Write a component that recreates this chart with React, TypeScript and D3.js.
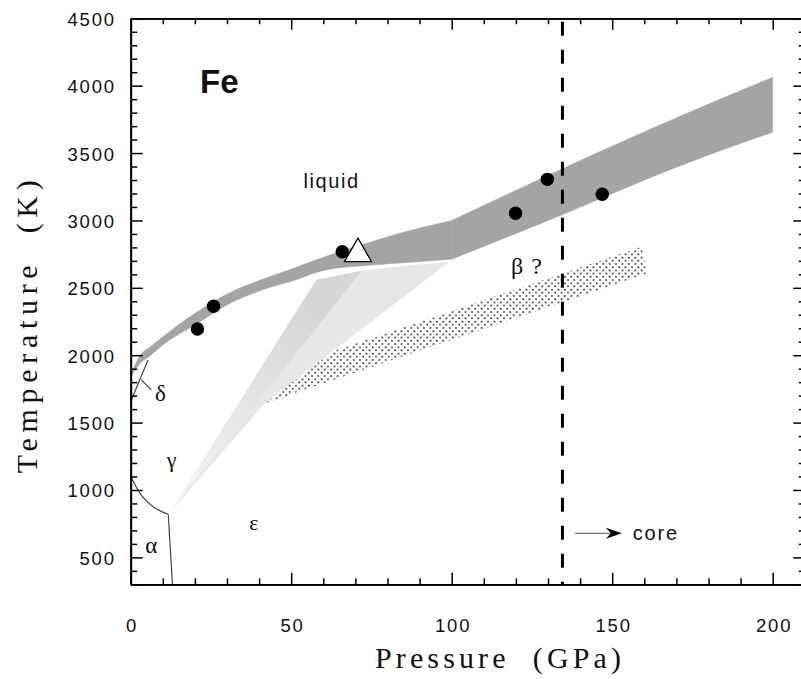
import React, { useEffect, useRef } from 'react';
import * as d3 from 'd3';

// melting band (P in GPa, T in K); the band kinks at 100 GPa
const bandP = [0.3, 3, 6, 10, 20, 30, 41, 52, 58, 62, 72, 83, 92, 100];
const bandTop = [1875, 2000, 2060, 2137, 2311, 2455, 2563, 2657, 2710, 2744, 2820, 2900, 2955, 3000];
const bandBottom = [1850, 1940, 1995, 2076, 2224, 2373, 2484, 2563, 2615, 2638, 2662, 2682, 2697, 2712];
const bandHighP = [100, 135, 170, 200];
const bandHighTop = [3000, 3390, 3762, 4063];
const bandHighBottom = [2712, 3048, 3395, 3655];

// light grey region (gamma/epsilon/liquid uncertainty)
const lightRegion = [[12.1, 830], [57.8, 2558], [72, 2627], [88, 2670], [99.3, 2694], [41.8, 1643]];
const lightWedge = [[12.1, 830], [57.8, 2558], [72, 2627]];

// dotted beta region
const betaRegion = [[41.8, 1643], [63.1, 2030], [159.2, 2805], [160.8, 2607]];

// phase boundaries
const alphaGamma = [[0, 1100], [2.9, 975], [7, 876], [11.7, 820]];
const alphaEps = [[11.7, 820], [13, 300]];
const deltaLine = [[0.2, 1668], [5.4, 1965]];
const deltaLeader = [[3.3, 1817], [6.4, 1744]];

// experimental points
const meltDots = [
  { p: 20.8, t: 2195 },
  { p: 25.8, t: 2363 },
  { p: 65.9, t: 2768 },
  { p: 119.9, t: 3053 },
  { p: 129.8, t: 3305 },
  { p: 146.9, t: 3194 },
];
const shockPoint = { p: 70.8, t: 2753 };
const coreBoundary = 134.5;

const xMajor = [0, 50, 100, 150, 200];
const xMinor = d3.range(0, 211, 10).filter((v) => v % 50 !== 0);
const yMajor = [500, 1000, 1500, 2000, 2500, 3000, 3500, 4000, 4500];
const yMinor = d3.range(300, 4501, 100).filter((v) => v % 500 !== 0);

const labels = [
  { text: 'Fe', p: 21.6, t: 3944, serif: false, size: 33, bold: true, ls: 0 },
  { text: 'liquid', p: 53.8, t: 3239, serif: false, size: 20, bold: false, ls: 1.6 },
  { text: 'β ?', p: 118.5, t: 2603, serif: true, size: 24, bold: false, ls: 1 },
  { text: 'δ', p: 7.6, t: 1660, serif: true, size: 23, bold: false, ls: 0 },
  { text: 'γ', p: 11.2, t: 1170, serif: true, size: 22, bold: false, ls: 0 },
  { text: 'α', p: 4.5, t: 530, serif: true, size: 23, bold: false, ls: 0 },
  { text: 'ε', p: 36.9, t: 703, serif: true, size: 22, bold: false, ls: 0 },
  { text: 'core', p: 156.4, t: 629, serif: false, size: 20, bold: false, ls: 1.8 },
];
const arrow = { p0: 138.4, p1: 153, t: 678 };

const SANS = '"Liberation Sans", Arial, Helvetica, sans-serif';
const SERIF = '"Liberation Serif", "Times New Roman", Times, serif';

const App = () => {
  const svgRef = useRef(null);

  useEffect(() => {
    const svg = d3.select(svgRef.current);
    svg.selectAll('*').remove();

    const x = d3.scaleLinear().domain([0, 210]).range([130.7, 804.8]);
    const y = d3.scaleLinear().domain([300, 4500]).range([584.3, 18.3]);

    const defs = svg.append('defs');
    const grad = defs.append('linearGradient')
      .attr('id', 'wedgeFade')
      .attr('gradientUnits', 'userSpaceOnUse')
      .attr('x1', x(12)).attr('y1', y(830))
      .attr('x2', x(50)).attr('y2', y(2400));
    grad.append('stop').attr('offset', 0).attr('stop-color', '#f6f6f6');
    grad.append('stop').attr('offset', 1).attr('stop-color', '#d6d6d6');

    const pat = defs.append('pattern')
      .attr('id', 'dots')
      .attr('patternUnits', 'userSpaceOnUse')
      .attr('width', 6.4).attr('height', 6.4);
    pat.append('circle').attr('cx', 1.6).attr('cy', 1.6).attr('r', 1).attr('fill', '#222');
    pat.append('circle').attr('cx', 4.8).attr('cy', 4.8).attr('r', 1).attr('fill', '#222');

    const poly = (pts) => 'M' + pts.map((d) => `${x(d[0])},${y(d[1])}`).join('L') + 'Z';
    const line = d3.line().x((d) => x(d[0])).y((d) => y(d[1]));

    // light region + wedge
    svg.append('path').attr('d', poly(lightRegion)).attr('fill', '#e7e7e7');
    svg.append('path').attr('d', poly(lightWedge)).attr('fill', 'url(#wedgeFade)');

    // beta dotted region
    svg.append('path').attr('d', poly(betaRegion)).attr('fill', 'url(#dots)');

    // melting band: curved low-pressure part, then the part beyond the kink
    const bandColor = '#a4a4a4';
    const lowArea = d3.area()
      .x((d, i) => x(bandP[i]))
      .y0((d, i) => y(bandBottom[i]))
      .y1((d, i) => y(bandTop[i]))
      .curve(d3.curveMonotoneX);
    svg.append('path').attr('d', lowArea(bandP))
      .attr('fill', bandColor).attr('stroke', bandColor).attr('stroke-width', 0.4);
    const highArea = d3.area()
      .x((d, i) => x(bandHighP[i]))
      .y0((d, i) => y(bandHighBottom[i]))
      .y1((d, i) => y(bandHighTop[i]))
      .curve(d3.curveMonotoneX);
    svg.append('path').attr('d', highArea(bandHighP))
      .attr('fill', bandColor).attr('stroke', bandColor).attr('stroke-width', 0.4);

    // phase boundaries
    svg.append('path')
      .attr('d', line.curve(d3.curveMonotoneX)(alphaGamma))
      .attr('fill', 'none').attr('stroke', '#444').attr('stroke-width', 1.2);
    line.curve(d3.curveLinear);
    [alphaEps, deltaLine, deltaLeader].forEach((seg) => {
      svg.append('path')
        .attr('d', line(seg))
        .attr('fill', 'none').attr('stroke', '#444').attr('stroke-width', 1.2);
    });

    // core boundary
    svg.append('line')
      .attr('x1', x(coreBoundary)).attr('x2', x(coreBoundary))
      .attr('y1', y(4475)).attr('y2', y(300))
      .attr('stroke', '#000').attr('stroke-width', 3)
      .attr('stroke-dasharray', '14 14');

    // data points
    svg.append('g').selectAll('circle')
      .data(meltDots)
      .enter()
      .append('circle')
      .attr('cx', (d) => x(d.p))
      .attr('cy', (d) => y(d.t))
      .attr('r', 6.7)
      .attr('fill', '#000');

    svg.append('path')
      .attr('d', d3.symbol(d3.symbolTriangle, 316)())
      .attr('transform', `translate(${x(shockPoint.p)},${y(shockPoint.t)})`)
      .attr('fill', '#fff').attr('stroke', '#000').attr('stroke-width', 1.3);

    // arrow to core
    const ax0 = x(arrow.p0), ax1 = x(arrow.p1), ay = y(arrow.t);
    svg.append('line')
      .attr('x1', ax0).attr('x2', ax1 - 8).attr('y1', ay).attr('y2', ay)
      .attr('stroke', '#777').attr('stroke-width', 1.1);
    svg.append('path')
      .attr('d', `M${ax1},${ay}L${ax1 - 16},${ay - 5.5}L${ax1 - 11},${ay}L${ax1 - 16},${ay + 5.5}Z`)
      .attr('fill', '#000');

    // labels
    labels.forEach((l) => {
      svg.append('text')
        .attr('x', x(l.p)).attr('y', y(l.t))
        .attr('font-family', l.serif ? SERIF : SANS)
        .attr('font-size', l.size)
        .attr('font-weight', l.bold ? 'bold' : 'normal')
        .attr('letter-spacing', l.ls)
        .attr('fill', '#111')
        .text(l.text);
    });

    // axes
    const fmt = d3.format('d');
    const styleAxis = (g, withText) => {
      g.attr('font-family', SANS).attr('font-size', 18.5);
      g.select('.domain').attr('stroke-width', 1.8).attr('stroke', '#000');
      g.selectAll('.tick line').attr('stroke-width', 1.5).attr('stroke', '#000');
      if (!withText) g.selectAll('.tick text').remove();
      g.selectAll('.tick text').attr('fill', '#111').attr('letter-spacing', 1.8);
    };
    const y0 = y(300), yTop = y(4500), xLeft = x(0), xRight = x(210);

    svg.append('g').attr('transform', `translate(0,${y0})`)
      .call(d3.axisBottom(x).tickValues(xMajor).tickFormat(fmt).tickSizeInner(-11.5).tickSizeOuter(0).tickPadding(34.3))
      .call((g) => styleAxis(g, true))
      .call((g) => g.selectAll('.tick text').attr('dx', 0.9));
    svg.append('g').attr('transform', `translate(0,${y0})`)
      .call(d3.axisBottom(x).tickValues(xMinor).tickSizeInner(-6).tickSizeOuter(0))
      .call((g) => styleAxis(g, false));
    svg.append('g').attr('transform', `translate(0,${yTop})`)
      .call(d3.axisTop(x).tickValues(xMajor).tickSizeInner(-11.5).tickSizeOuter(0))
      .call((g) => styleAxis(g, false));
    svg.append('g').attr('transform', `translate(0,${yTop})`)
      .call(d3.axisTop(x).tickValues(xMinor).tickSizeInner(-6).tickSizeOuter(0))
      .call((g) => styleAxis(g, false));

    svg.append('g').attr('transform', `translate(${xLeft},0)`)
      .call(d3.axisLeft(y).tickValues(yMajor).tickFormat(fmt).tickSizeInner(-12).tickSizeOuter(0).tickPadding(14.9))
      .call((g) => styleAxis(g, true))
      .call((g) => g.selectAll('.tick text').attr('dy', '0.38em'));
    svg.append('g').attr('transform', `translate(${xLeft},0)`)
      .call(d3.axisLeft(y).tickValues(yMinor).tickSizeInner(-6.5).tickSizeOuter(0))
      .call((g) => styleAxis(g, false));
    svg.append('g').attr('transform', `translate(${xRight},0)`)
      .call(d3.axisRight(y).tickValues(yMajor).tickSizeInner(-11.5).tickSizeOuter(0))
      .call((g) => styleAxis(g, false));
    svg.append('g').attr('transform', `translate(${xRight},0)`)
      .call(d3.axisRight(y).tickValues(yMinor).tickSizeInner(-6).tickSizeOuter(0))
      .call((g) => styleAxis(g, false));

    // axis titles
    svg.append('text')
      .attr('x', 375).attr('y', 668)
      .attr('font-family', SERIF).attr('font-size', 30)
      .attr('textLength', 246).attr('lengthAdjust', 'spacing')
      .attr('fill', '#111')
      .style('white-space', 'pre')
      .text('Pressure  (GPa)');
    svg.append('text')
      .attr('transform', 'translate(36.7,473.3) rotate(-90)')
      .attr('font-family', SERIF).attr('font-size', 30)
      .attr('textLength', 293).attr('lengthAdjust', 'spacing')
      .attr('fill', '#111')
      .style('white-space', 'pre')
      .text('Temperature  (K)');
  }, []);

  return (
    <svg
      ref={svgRef}
      width={801}
      height={679}
      style={{ position: 'absolute', left: 0, top: 0, background: '#fff' }}
    />
  );
};

export default App;
